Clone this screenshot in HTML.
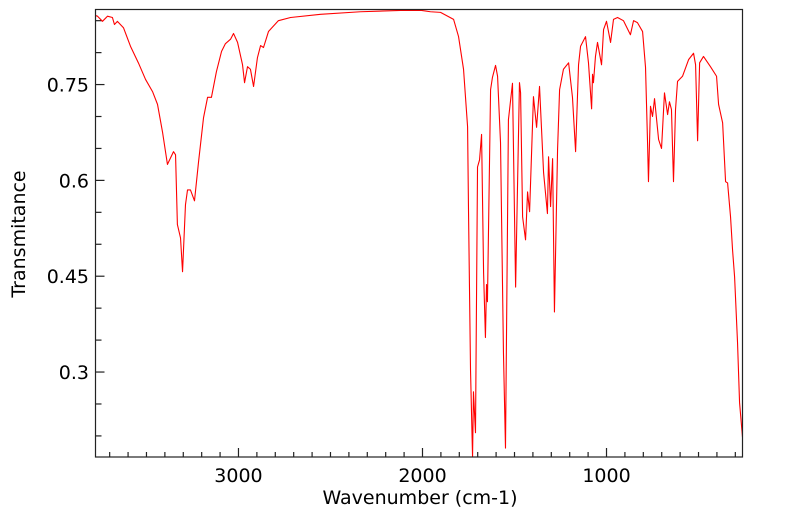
<!DOCTYPE html>
<html><head><meta charset="utf-8"><style>
html,body{margin:0;padding:0;background:#fff}
svg{display:block;font-family:"DejaVu Sans","Liberation Sans",sans-serif}
</style></head><body>
<svg id="chart" width="799" height="516" viewBox="0 0 799 516" xmlns="http://www.w3.org/2000/svg">
<rect x="0" y="0" width="799" height="516" fill="#fff"/>
<g id="ticks"></g>
<g id="labels"></g>
<path id="spectrum" fill="none" stroke="#ff0000" stroke-width="1.1" stroke-linejoin="round"/>
<rect x="95.5" y="9.5" width="647" height="447.5" fill="none" stroke="#222" stroke-width="1.2"/>
<text x="420" y="504" text-anchor="middle" font-size="19" fill="#000">Wavenumber (cm-1)</text>
<text x="0" y="0" transform="translate(25,234) rotate(-90)" text-anchor="middle" font-size="19" fill="#000">Transmitance</text>
</svg>
<script>
const wavenumbers = [3777,3766,3739,3712,3685,3674,3658,3625,3587,3544,3505,3467,3440,3413,3386,3353,3342,3332,3315,3304,3288,3277,3261,3239,3217,3190,3168,3147,3120,3092,3071,3043,3027,3005,2978,2967,2951,2935,2918,2897,2880,2864,2837,2783,2717,2554,2337,2120,2005,1957,1902,1831,1804,1777,1755,1750,1739,1728,1723,1712,1701,1690,1679,1668,1658,1652,1647,1630,1620,1603,1592,1576,1560,1549,1533,1511,1494,1473,1467,1456,1440,1429,1418,1397,1380,1364,1342,1321,1315,1304,1293,1283,1266,1255,1234,1206,1185,1168,1152,1141,1114,1098,1081,1076,1071,1060,1049,1027,1016,1000,978,962,940,908,870,853,832,804,788,777,772,761,750,739,717,701,685,668,658,647,636,625,614,587,554,527,516,505,494,473,435,402,391,369,353,342,326,315,304,288,277,261];
const transmittance = [0.858,0.857,0.849,0.857,0.855,0.844,0.849,0.839,0.810,0.784,0.758,0.739,0.719,0.676,0.625,0.645,0.640,0.531,0.510,0.457,0.562,0.585,0.585,0.568,0.629,0.698,0.730,0.730,0.770,0.802,0.814,0.821,0.830,0.816,0.781,0.753,0.778,0.774,0.747,0.792,0.811,0.808,0.833,0.850,0.855,0.860,0.864,0.866,0.866,0.864,0.863,0.852,0.825,0.774,0.684,0.554,0.303,0.167,0.269,0.205,0.621,0.632,0.672,0.455,0.354,0.437,0.410,0.742,0.761,0.780,0.763,0.659,0.330,0.181,0.695,0.752,0.433,0.753,0.737,0.543,0.507,0.582,0.551,0.731,0.683,0.747,0.612,0.548,0.637,0.559,0.634,0.394,0.648,0.742,0.774,0.784,0.730,0.645,0.781,0.810,0.825,0.784,0.712,0.766,0.753,0.794,0.816,0.781,0.836,0.849,0.816,0.852,0.855,0.850,0.828,0.850,0.847,0.833,0.777,0.659,0.598,0.716,0.700,0.728,0.664,0.650,0.737,0.703,0.723,0.711,0.598,0.711,0.755,0.763,0.789,0.799,0.781,0.662,0.784,0.794,0.778,0.763,0.719,0.690,0.598,0.596,0.543,0.491,0.449,0.346,0.252,0.198];
const xTickLabels = [3000,2000,1000];
const yTickLabels = [0.3,0.45,0.6,0.75];

const X0=95.5, X1=742.5, Y0=457, Y1=9.5;
const WMAX=3777, WMIN=261, TMIN=0.167, TMAX=0.8675;
function xs(w){return X0+(WMAX-w)/(WMAX-WMIN)*(X1-X0);}
function ys(t){return Y0-(t-TMIN)/(TMAX-TMIN)*(Y0-Y1);}
const NS="http://www.w3.org/2000/svg";
let d="";
for(let i=0;i<wavenumbers.length;i++){d+=(i?"L":"M")+xs(wavenumbers[i]).toFixed(2)+","+ys(transmittance[i]).toFixed(2);}
document.getElementById('spectrum').setAttribute('d',d);
const tg=document.getElementById('ticks'), lg=document.getElementById('labels');
function line(x1,y1,x2,y2,name){const l=document.createElementNS(NS,'line');
l.setAttribute('x1',x1);l.setAttribute('y1',y1);l.setAttribute('x2',x2);l.setAttribute('y2',y2);
l.setAttribute('stroke','#222');l.setAttribute('stroke-width','1.2');


tg.appendChild(l);}
for(let w=3700;w>=300;w-=100){const x=xs(w);const major=w%1000===0;line(x,Y0,x,Y0-(major?9:5),major?'x-major-tick':'x-minor-tick');}
for(let t=0.2;t<=0.86;t+=0.05){const y=ys(t);const major=Math.abs((t/0.15)-Math.round(t/0.15))<0.01;line(X0,y,X0+(major?9:6),y,major?'y-major-tick':'y-minor-tick');}
xTickLabels.forEach(v=>{const t=document.createElementNS(NS,'text');
t.setAttribute('x',xs(v));t.setAttribute('y',482);t.setAttribute('text-anchor','middle');t.setAttribute('font-size','19');


t.textContent=v;lg.appendChild(t);});
yTickLabels.forEach(v=>{const t=document.createElementNS(NS,'text');
t.setAttribute('x',89);t.setAttribute('y',ys(v)+7);t.setAttribute('text-anchor','end');t.setAttribute('font-size','19');


t.textContent=String(v);lg.appendChild(t);});
</script>
</body></html>
